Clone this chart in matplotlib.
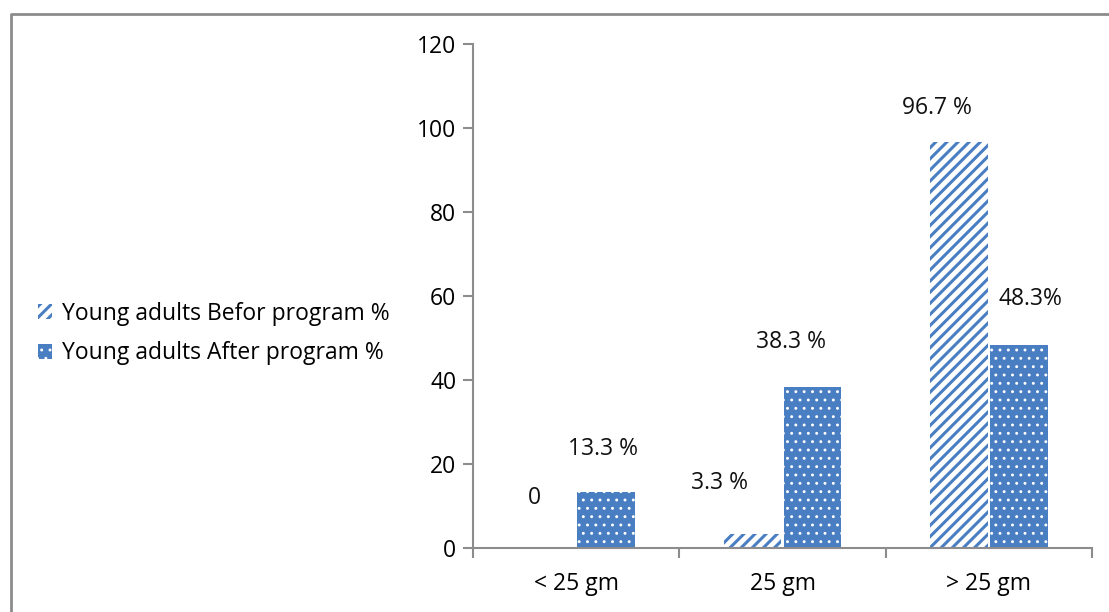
import numpy as np
import matplotlib
matplotlib.use("Agg")
import matplotlib.pyplot as plt
from matplotlib.lines import Line2D

categories = ["< 25 gm", "25 gm", "> 25 gm"]
before = [0, 3.3, 96.7]
after = [13.3, 38.3, 48.3]
before_labels = ["0", "3.3 %", "96.7 %"]
after_labels = ["13.3 %", "38.3 %", "48.3%"]

# where each value label sits relative to the top of its bar (pixels)
before_offsets = [(-12, 50), (-33, 51), (-22, 34)]
after_offsets = [(-3, 43), (-21, 45), (12, 46)]

blue = "#4A7EC2"
grey = "#8C8C8C"

plt.rcParams["font.family"] = ["Open Sans", "DejaVu Sans"]
plt.rcParams["font.size"] = 16.5

fig = plt.figure(figsize=(11.09, 6.12), dpi=100)
ax = fig.add_axes([0.4265, 0.1046, 0.9847 - 0.4265, 0.928 - 0.1046])

x = np.arange(len(categories))
w = 0.28
xb = x - 0.145
xa = x + 0.145

# striped "before" bars: white fill, blue diagonal hatch
bars_b = ax.bar(xb, before, w, color="white", edgecolor=blue, linewidth=0,
                hatch="///", label="Young adults Befor program %")
# dotted "after" bars: blue fill, small white dots on top
bars_a = ax.bar(xa, after, w, color=blue, edgecolor="white", linewidth=0,
                hatch="..", label="Young adults After program %")
for b in bars_b:
    b.set_hatch_linewidth(2.2)
for b in bars_a:
    b.set_hatch_linewidth(0.9)

for xs, vals, labs, offs in [(xb, before, before_labels, before_offsets),
                             (xa, after, after_labels, after_offsets)]:
    for xi, v, lab, (dx, dy) in zip(xs, vals, labs, offs):
        ax.annotate(lab, (xi, v), xytext=(dx, dy), textcoords="offset pixels",
                    ha="center", va="center", color="#111111")

ax.set_xlim(-0.5, 2.5)
ax.set_ylim(0, 120)
ax.set_yticks(range(0, 121, 20))
ax.set_xticks(x)
ax.set_xticklabels(categories)
ax.set_xticks([-0.5, 0.5, 1.5, 2.5], minor=True)
ax.tick_params(axis="x", which="major", length=0, pad=17)
ax.tick_params(axis="x", which="minor", length=7, width=1.5, color=grey)
ax.tick_params(axis="y", length=7, width=1.5, color=grey, pad=5)

for s in ["top", "right"]:
    ax.spines[s].set_visible(False)
for s in ["left", "bottom"]:
    ax.spines[s].set_color(grey)
    ax.spines[s].set_linewidth(1.5)

leg = fig.legend(handles=[bars_b, bars_a], loc="center left",
                 bbox_to_anchor=(0.0155, 0.455), frameon=False,
                 handlelength=0.6, handleheight=0.6, handletextpad=0.45,
                 labelspacing=0.68)
leg.legend_handles[0].set_hatch_linewidth(2.2)
leg.legend_handles[1].set_hatch_linewidth(0.9)

# outer chart frame (left and top edges)
fig.add_artist(Line2D([0.0099, 0.0099, 1.0], [0.0, 0.977, 0.977],
                      transform=fig.transFigure, color=grey, linewidth=2))

fig.savefig("out.png", dpi=100)
